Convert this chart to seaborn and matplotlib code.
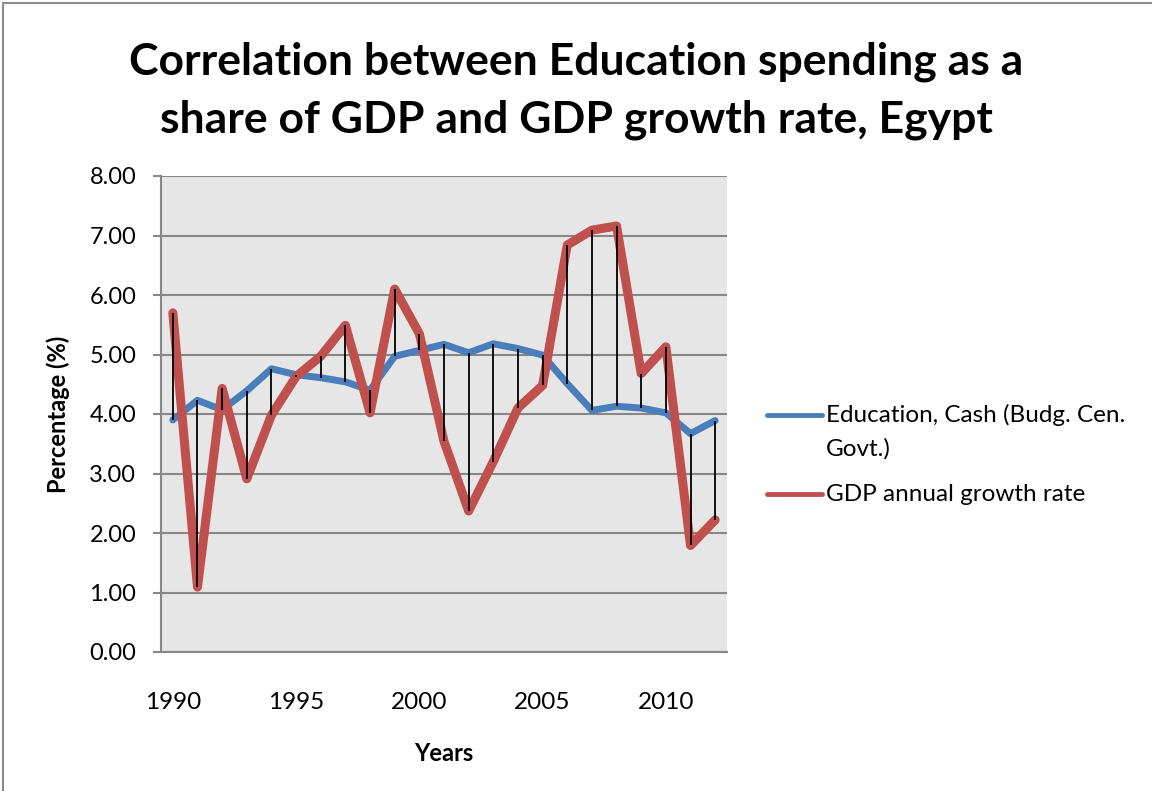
import numpy as np
import pandas as pd
import matplotlib
matplotlib.use("Agg")
import matplotlib.pyplot as plt
from matplotlib.lines import Line2D
import seaborn as sns

years = list(range(1990, 2013))
education = [3.90, 4.23, 4.07, 4.39, 4.76, 4.66, 4.61, 4.54, 4.40, 4.97, 5.07, 5.17,
             5.03, 5.18, 5.10, 4.99, 4.51, 4.06, 4.13, 4.10, 4.02, 3.67, 3.89]
gdp_growth = [5.70, 1.09, 4.43, 2.91, 3.98, 4.63, 4.97, 5.49, 4.02, 6.10, 5.35, 3.54,
              2.37, 3.20, 4.10, 4.48, 6.84, 7.09, 7.16, 4.68, 5.13, 1.79, 2.22]
series_names = ["Education, Cash (Budg. Cen.\nGovt.)", "GDP annual growth rate"]
title_lines = ["Correlation between Education spending as a",
               "share of GDP and GDP growth rate, Egypt"]
y_ticks = [0, 1, 2, 3, 4, 5, 6, 7, 8]
x_ticks = [1990, 1995, 2000, 2005, 2010]

BLUE = "#4A7EBB"
RED = "#C0504D"
GRID = "#878787"

sns.set_theme(style="white")
plt.rcParams["font.family"] = ["Lato", "DejaVu Sans"]
plt.rcParams["text.color"] = "black"
plt.rcParams["axes.labelcolor"] = "black"
plt.rcParams["xtick.color"] = "black"
plt.rcParams["ytick.color"] = "black"

df = pd.DataFrame({"year": years, "edu": education, "gdp": gdp_growth})

W, H = 1152, 791
fig = plt.figure(figsize=(W / 100, H / 100), dpi=100)
ax = fig.add_axes([161 / W, 1 - 652 / H, (727 - 161) / W, (652 - 176) / H])
ax.set_facecolor("#E6E6E6")

sns.lineplot(data=df, x="year", y="edu", color=BLUE, linewidth=5.0, ax=ax,
             solid_capstyle="round", solid_joinstyle="round", zorder=3)
sns.lineplot(data=df, x="year", y="gdp", color=RED, linewidth=6.5, ax=ax,
             solid_capstyle="round", solid_joinstyle="round", zorder=4)

# high-low lines between the two series
lo = np.minimum(df["edu"], df["gdp"])
hi = np.maximum(df["edu"], df["gdp"])
ax.vlines(df["year"], lo, hi, color="black", linewidth=1.3, zorder=5)

ax.set_xlim(1989.52, 2012.48)
ax.set_ylim(0, 8)
ax.set_yticks(y_ticks)
ax.set_yticklabels([f"{v:.2f}" for v in y_ticks], fontsize=17)
ax.set_xticks(x_ticks)
ax.set_xticklabels([str(v) for v in x_ticks], fontsize=17.5)
ax.yaxis.grid(True, color=GRID, linewidth=1.5, zorder=1)
ax.xaxis.grid(False)
ax.set_axisbelow(True)

for s in ["top", "right"]:
    ax.spines[s].set_visible(False)
for s in ["left", "bottom"]:
    ax.spines[s].set_color(GRID)
    ax.spines[s].set_linewidth(1.5)

ax.tick_params(axis="y", which="both", left=True, length=5.8, width=1.5, color=GRID, pad=12)
ax.tick_params(axis="x", which="both", bottom=False, pad=23)

ax.set_xlabel("Years", fontsize=17, fontweight="bold", labelpad=21)
ax.set_ylabel("Percentage (%)", fontsize=17, fontweight="bold", labelpad=14)

# two-line title, each line placed on its own baseline
for i, line in enumerate(title_lines):
    fig.text(0.5, 1 - (75 + 57 * i) / H, line, fontsize=32, fontweight="bold",
             ha="center", va="baseline", transform=fig.transFigure)

# legend drawn in figure pixel coordinates
legend_rows = [(series_names[0], BLUE, 415), (series_names[1], RED, 494)]
for label, col, ypx in legend_rows:
    fig.add_artist(Line2D([767 / W, 822 / W], [1 - ypx / H, 1 - ypx / H],
                          color=col, linewidth=3.5, solid_capstyle="round",
                          transform=fig.transFigure))
    for i, line in enumerate(label.split("\n")):
        fig.text(826 / W, 1 - (ypx + 34 * i) / H, line, fontsize=17.5,
                 va="center", ha="left", transform=fig.transFigure)

# chart frame
fig.add_artist(Line2D([3 / W, 3 / W], [0, 1 - 3 / H], color="#8C8C8C", linewidth=1.5,
                      transform=fig.transFigure))
fig.add_artist(Line2D([3 / W, 1], [1 - 3 / H, 1 - 3 / H], color="#8C8C8C", linewidth=1.5,
                      transform=fig.transFigure))

fig.savefig("out.png", dpi=100, facecolor="white")
